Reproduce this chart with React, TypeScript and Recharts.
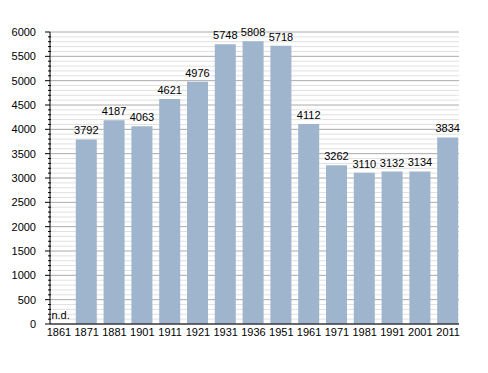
import { BarChart, Bar, XAxis, YAxis, CartesianGrid, LabelList, ReferenceDot } from "recharts";

const years = ["1861", "1871", "1881", "1901", "1911", "1921", "1931", "1936", "1951", "1961", "1971", "1981", "1991", "2001", "2011"];
const population = [null, 3792, 4187, 4063, 4621, 4976, 5748, 5808, 5718, 4112, 3262, 3110, 3132, 3134, 3834];
const majorTicks = [0, 500, 1000, 1500, 2000, 2500, 3000, 3500, 4000, 4500, 5000, 5500, 6000];
const minorStep = 100;

const yTicks: number[] = [];
for (let v = 0; v <= 6000; v += minorStep) yTicks.push(v);

const data = years.map((year, i) => ({ year, value: population[i] }));

const font = "'Liberation Sans', Arial, sans-serif";

function YTick(props: any) {
    const { x, y, payload } = props;
    const major = majorTicks.includes(payload.value);
    return (
        <g>
            <line x1={major ? x - 5 : x - 2} x2={major ? x : x + 1} y1={y} y2={y} stroke="#000" strokeWidth={1} />
            {major && (
                <text x={x - 14} y={y} dy="0.35em" textAnchor="end" fontSize={11} fontFamily={font} fill="#000">
                    {payload.value}
                </text>
            )}
        </g>
    );
}

function GridLine(props: any) {
    const { x1, x2, y1, y2, index } = props;
    const major = index % 5 === 0;
    return <line key={props.key} x1={x1} x2={x2} y1={y1} y2={y2} stroke={major ? "#aaaaaa" : "#e0e0e0"} strokeWidth={1} />;
}

export default function App() {
    return (
        <div style={{ position: "absolute", left: 0, top: 0, width: 488, height: 373, background: "#fff" }}>
            <BarChart width={488} height={373} data={data} margin={{ top: 32, right: 29, left: 0, bottom: 29 }} barSize={21}>
                <CartesianGrid vertical={false} horizontal={GridLine as any} />
                <XAxis
                    dataKey="year"
                    height={20}
                    padding={{ left: -5, right: -3 }}
                    tickLine={false}
                    tickSize={0}
                    tickMargin={4}
                    axisLine={{ stroke: "#000" }}
                    interval={0}
                    tick={{ fontSize: 11, fontFamily: font, fill: "#000" }}
                />
                <YAxis
                    width={50}
                    domain={[0, 6000]}
                    ticks={yTicks}
                    interval={0}
                    tickLine={false}
                    tickSize={0}
                    tickMargin={0}
                    axisLine={{ stroke: "#000" }}
                    tick={<YTick />}
                />
                <Bar dataKey="value" fill="#9fb5cd" isAnimationActive={false}>
                    <LabelList dataKey="value" position="top" offset={5} fontSize={11} fontFamily={font} fill="#000" />
                </Bar>
                <ReferenceDot
                    x="1861"
                    y={0}
                    r={0}
                    shape={(p: any) => (
                        <text x={p.cx - 7.5} y={p.cy - 5} fontSize={11} fontFamily={font} fill="#000">
                            n.d.
                        </text>
                    )}
                />
            </BarChart>
        </div>
    );
}
